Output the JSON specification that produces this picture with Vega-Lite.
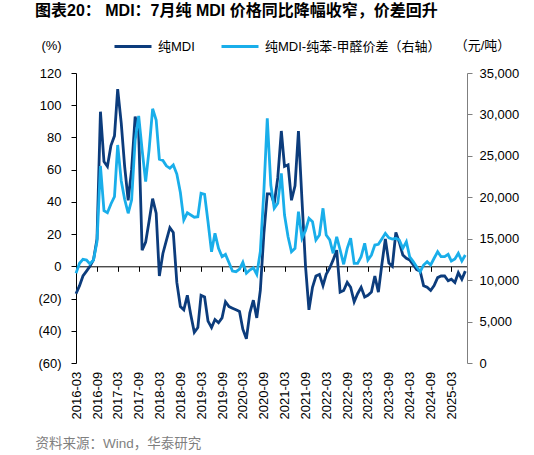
{
  "$schema": "https://vega.github.io/schema/vega-lite/v6.json",
  "width": 391,
  "height": 290,
  "autosize": {"type": "none"},
  "padding": {"left": 76, "top": 73, "right": 67, "bottom": 92},
  "background": "white",
  "config": {
    "view": {"stroke": null},
    "font": "Liberation Sans, Noto Sans CJK SC, sans-serif",
    "axis": {"grid": false, "labelColor": "#000", "labelFontSize": 13, "domainColor": "#000", "tickColor": "#000", "titleColor": "#000", "labelFont": "Liberation Sans, Noto Sans CJK SC, sans-serif", "titleFont": "Liberation Sans, Noto Sans CJK SC, sans-serif"},
    "legend": {"labelFont": "Liberation Sans, Noto Sans CJK SC, sans-serif"}
  },
  "title": {"text": "图表20： MDI：7月纯 MDI 价格同比降幅收窄，价差回升", "anchor": "start", "frame": "group", "dx": -41, "offset": 8, "fontSize": 16, "fontWeight": "bold", "color": "#000", "font": "Liberation Sans, Noto Sans CJK SC, sans-serif"},
  "data": {"values": [
    {"d": "2016/03/01", "mdi": -17, "spread": 10830},
    {"d": "2016/04/01", "mdi": -12, "spread": 12030},
    {"d": "2016/05/01", "mdi": -6, "spread": 12520},
    {"d": "2016/06/01", "mdi": -3, "spread": 12430},
    {"d": "2016/07/01", "mdi": 0, "spread": 11950},
    {"d": "2016/08/01", "mdi": 4, "spread": 12430},
    {"d": "2016/09/01", "mdi": 17, "spread": 14640},
    {"d": "2016/10/01", "mdi": 96, "spread": 23780},
    {"d": "2016/11/01", "mdi": 65, "spread": 18380},
    {"d": "2016/12/01", "mdi": 62, "spread": 18140},
    {"d": "2017/01/01", "mdi": 75, "spread": 19190},
    {"d": "2017/02/01", "mdi": 81, "spread": 20070},
    {"d": "2017/03/01", "mdi": 110, "spread": 26310},
    {"d": "2017/04/01", "mdi": 89, "spread": 22000},
    {"d": "2017/05/01", "mdi": 62, "spread": 19760},
    {"d": "2017/06/01", "mdi": 41, "spread": 18070},
    {"d": "2017/07/01", "mdi": 60, "spread": 19670},
    {"d": "2017/08/01", "mdi": 93, "spread": 26910},
    {"d": "2017/09/01", "mdi": 83, "spread": 29810},
    {"d": "2017/10/01", "mdi": 10, "spread": 25710},
    {"d": "2017/11/01", "mdi": 15, "spread": 21880},
    {"d": "2017/12/01", "mdi": 28, "spread": 25710},
    {"d": "2018/01/01", "mdi": 42, "spread": 30680},
    {"d": "2018/02/01", "mdi": 33, "spread": 29330},
    {"d": "2018/03/01", "mdi": -6, "spread": 24600},
    {"d": "2018/04/01", "mdi": 8, "spread": 24450},
    {"d": "2018/05/01", "mdi": 16, "spread": 23800},
    {"d": "2018/06/01", "mdi": 24, "spread": 23500},
    {"d": "2018/07/01", "mdi": 21, "spread": 23900},
    {"d": "2018/08/01", "mdi": -10, "spread": 22800},
    {"d": "2018/09/01", "mdi": -25, "spread": 20580},
    {"d": "2018/10/01", "mdi": -27, "spread": 17260},
    {"d": "2018/11/01", "mdi": -18, "spread": 18120},
    {"d": "2018/12/01", "mdi": -30, "spread": 17860},
    {"d": "2019/01/01", "mdi": -41, "spread": 17600},
    {"d": "2019/02/01", "mdi": -38, "spread": 17660},
    {"d": "2019/03/01", "mdi": -18, "spread": 20480},
    {"d": "2019/04/01", "mdi": -19, "spread": 20360},
    {"d": "2019/05/01", "mdi": -34, "spread": 17050},
    {"d": "2019/06/01", "mdi": -38, "spread": 13430},
    {"d": "2019/07/01", "mdi": -33, "spread": 15650},
    {"d": "2019/08/01", "mdi": -35, "spread": 13840},
    {"d": "2019/09/01", "mdi": -32, "spread": 12830},
    {"d": "2019/10/01", "mdi": -22, "spread": 13100},
    {"d": "2019/11/01", "mdi": -25, "spread": 12100},
    {"d": "2019/12/01", "mdi": -26, "spread": 11100},
    {"d": "2020/01/01", "mdi": -27, "spread": 11020},
    {"d": "2020/02/01", "mdi": -28, "spread": 11340},
    {"d": "2020/03/01", "mdi": -39, "spread": 12150},
    {"d": "2020/04/01", "mdi": -45, "spread": 10830},
    {"d": "2020/05/01", "mdi": -29, "spread": 11220},
    {"d": "2020/06/01", "mdi": -21, "spread": 11500},
    {"d": "2020/07/01", "mdi": -32, "spread": 10700},
    {"d": "2020/08/01", "mdi": -15, "spread": 13430},
    {"d": "2020/09/01", "mdi": 20, "spread": 20670},
    {"d": "2020/10/01", "mdi": 45, "spread": 29530},
    {"d": "2020/11/01", "mdi": 45, "spread": 21480},
    {"d": "2020/12/01", "mdi": 39, "spread": 18670},
    {"d": "2021/01/01", "mdi": 55, "spread": 19270},
    {"d": "2021/02/01", "mdi": 84, "spread": 22890},
    {"d": "2021/03/01", "mdi": 62, "spread": 17860},
    {"d": "2021/04/01", "mdi": 63, "spread": 15240},
    {"d": "2021/05/01", "mdi": 41, "spread": 13430},
    {"d": "2021/06/01", "mdi": 50, "spread": 13840},
    {"d": "2021/07/01", "mdi": 84, "spread": 18260},
    {"d": "2021/08/01", "mdi": 41, "spread": 15050},
    {"d": "2021/09/01", "mdi": 0, "spread": 16000},
    {"d": "2021/10/01", "mdi": -27, "spread": 17460},
    {"d": "2021/11/01", "mdi": -13, "spread": 17050},
    {"d": "2021/12/01", "mdi": -6, "spread": 14850},
    {"d": "2022/01/01", "mdi": -5, "spread": 15450},
    {"d": "2022/02/01", "mdi": -12, "spread": 18670},
    {"d": "2022/03/01", "mdi": -5, "spread": 15450},
    {"d": "2022/04/01", "mdi": -1, "spread": 14850},
    {"d": "2022/05/01", "mdi": 4, "spread": 13240},
    {"d": "2022/06/01", "mdi": 10, "spread": 15240},
    {"d": "2022/07/01", "mdi": -16, "spread": 13640},
    {"d": "2022/08/01", "mdi": -15, "spread": 11910},
    {"d": "2022/09/01", "mdi": -10, "spread": 13840},
    {"d": "2022/10/01", "mdi": -13, "spread": 15050},
    {"d": "2022/11/01", "mdi": -22, "spread": 12030},
    {"d": "2022/12/01", "mdi": -17, "spread": 12030},
    {"d": "2023/01/01", "mdi": -13, "spread": 12830},
    {"d": "2023/02/01", "mdi": -19, "spread": 14450},
    {"d": "2023/03/01", "mdi": -18, "spread": 12430},
    {"d": "2023/04/01", "mdi": -16, "spread": 13030},
    {"d": "2023/05/01", "mdi": -6, "spread": 14240},
    {"d": "2023/06/01", "mdi": -16, "spread": 14320},
    {"d": "2023/07/01", "mdi": 1, "spread": 14960},
    {"d": "2023/08/01", "mdi": 17, "spread": 15650},
    {"d": "2023/09/01", "mdi": 2, "spread": 15100},
    {"d": "2023/10/01", "mdi": 0, "spread": 14960},
    {"d": "2023/11/01", "mdi": 21, "spread": 15050},
    {"d": "2023/12/01", "mdi": 15, "spread": 14845},
    {"d": "2024/01/01", "mdi": 7, "spread": 13840},
    {"d": "2024/02/01", "mdi": 5, "spread": 14640},
    {"d": "2024/03/01", "mdi": 4, "spread": 12830},
    {"d": "2024/04/01", "mdi": 1, "spread": 12230},
    {"d": "2024/05/01", "mdi": -2, "spread": 11620},
    {"d": "2024/06/01", "mdi": -3, "spread": 11020},
    {"d": "2024/07/01", "mdi": -12, "spread": 11830},
    {"d": "2024/08/01", "mdi": -13, "spread": 12230},
    {"d": "2024/09/01", "mdi": -15, "spread": 11830},
    {"d": "2024/10/01", "mdi": -12, "spread": 12640},
    {"d": "2024/11/01", "mdi": -7, "spread": 13430},
    {"d": "2024/12/01", "mdi": -6, "spread": 12830},
    {"d": "2025/01/01", "mdi": -6, "spread": 12830},
    {"d": "2025/02/01", "mdi": -9, "spread": 13120},
    {"d": "2025/03/01", "mdi": -8, "spread": 12310},
    {"d": "2025/04/01", "mdi": -10, "spread": 12550},
    {"d": "2025/05/01", "mdi": -4, "spread": 13240},
    {"d": "2025/06/01", "mdi": -8, "spread": 12310},
    {"d": "2025/07/01", "mdi": -3, "spread": 13030}
  ]},
  "encoding": {
    "x": {
      "field": "d", "type": "temporal",
      "scale": {"domain": [{"year": 2016, "month": 3, "date": 1}, {"year": 2025, "month": 7, "date": 16}]},
      "axis": {
        "values": [
          {"year": 2016, "month": 3, "date": 1}, {"year": 2016, "month": 9, "date": 1},
          {"year": 2017, "month": 3, "date": 1}, {"year": 2017, "month": 9, "date": 1},
          {"year": 2018, "month": 3, "date": 1}, {"year": 2018, "month": 9, "date": 1},
          {"year": 2019, "month": 3, "date": 1}, {"year": 2019, "month": 9, "date": 1},
          {"year": 2020, "month": 3, "date": 1}, {"year": 2020, "month": 9, "date": 1},
          {"year": 2021, "month": 3, "date": 1}, {"year": 2021, "month": 9, "date": 1},
          {"year": 2022, "month": 3, "date": 1}, {"year": 2022, "month": 9, "date": 1},
          {"year": 2023, "month": 3, "date": 1}, {"year": 2023, "month": 9, "date": 1},
          {"year": 2024, "month": 3, "date": 1}, {"year": 2024, "month": 9, "date": 1},
          {"year": 2025, "month": 3, "date": 1}
        ],
        "format": "%Y-%m",
        "labelAngle": -90, "labelAlign": "right", "labelBaseline": "middle",
        "labelOverlap": false, "labelFlush": false,
        "offset": -96.7, "tickSize": 5, "labelPadding": 100,
        "title": "资料来源：Wind，华泰研究",
        "titleX": -41, "titleY": 176.7, "titleAlign": "left", "titleBaseline": "middle", "titleAngle": 0,
        "titleColor": "#7f7f7f", "titleFontWeight": "normal", "titleFontSize": 13.5
      }
    }
  },
  "layer": [
    {
      "mark": {"type": "line", "strokeWidth": 2.8, "clip": false},
      "encoding": {
        "y": {
          "field": "mdi", "type": "quantitative",
          "scale": {"domain": [-60, 120], "nice": false, "zero": false},
          "axis": {
            "values": [-60, -40, -20, 0, 20, 40, 60, 80, 100, 120],
            "labelExpr": "datum.value < 0 ? '(' + format(-datum.value, 'd') + ')' : datum.label",
            "tickSize": 5, "labelPadding": 10,
            "title": "(%)", "titleAngle": 0, "titleX": -25, "titleY": -28,
            "titleAlign": "center", "titleBaseline": "middle", "titleFontWeight": "normal", "titleFontSize": 13
          }
        },
        "color": {
          "datum": "纯MDI",
          "scale": {"domain": ["纯MDI", "纯MDI-纯苯-甲醛价差（右轴）"], "range": ["#0C3C7C", "#19AEEA"]},
          "legend": {
            "orient": "none", "legendX": 37, "legendY": -46.5, "direction": "horizontal",
            "title": null, "symbolType": "stroke", "symbolSize": 1369, "symbolStrokeWidth": 3,
            "labelFontSize": 13, "labelOffset": 5, "columnPadding": 20, "labelColor": "#000", "labelLimit": 300
          }
        }
      }
    },
    {
      "mark": {"type": "line", "strokeWidth": 2.8, "clip": false},
      "encoding": {
        "y": {
          "field": "spread", "type": "quantitative",
          "scale": {"domain": [0, 35000], "nice": false},
          "axis": {
            "orient": "right",
            "values": [0, 5000, 10000, 15000, 20000, 25000, 30000, 35000],
            "format": ",.0f",
            "tickSize": 5, "labelPadding": 7,
            "domainColor": "#7f7f7f", "tickColor": "#7f7f7f",
            "title": "（元/吨）", "titleAngle": 0, "titleX": 15, "titleY": -28,
            "titleAlign": "center", "titleBaseline": "middle", "titleFontWeight": "normal", "titleFontSize": 13
          }
        },
        "color": {"datum": "纯MDI-纯苯-甲醛价差（右轴）"}
      }
    }
  ],
  "resolve": {"scale": {"y": "independent"}}
}
